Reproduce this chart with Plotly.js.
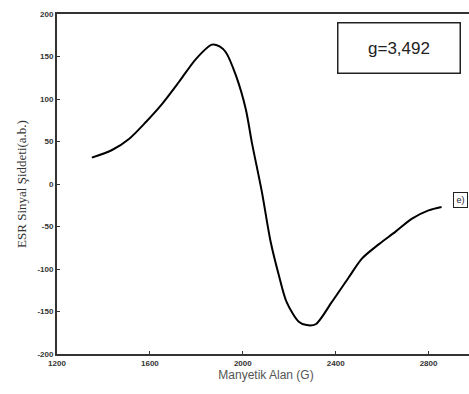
<!DOCTYPE html>
<html>
<head>
<meta charset="utf-8">
<script src="https://cdn.plot.ly/plotly-3.0.1.min.js"></script>
<style>
html,body{margin:0;padding:0;overflow:hidden;background:#fff;}
#chart{width:480px;height:394px;}
</style>
</head>
<body>
<div id="chart"></div>
<script>
const fieldG = [1350, 1437, 1510, 1583, 1652, 1725, 1798, 1867, 1900, 1927, 1970, 2013, 2039, 2082, 2120, 2155, 2189, 2241, 2275, 2314, 2383, 2456, 2512, 2585, 2658, 2727, 2800, 2856];
const signal = [31, 40, 53, 73, 94, 120, 147, 164, 162, 155, 128, 88, 49, -9, -68, -107, -139, -162, -166, -165, -139, -110, -88, -71, -56, -41, -31, -27];
const xTicks = [1200, 1600, 2000, 2400, 2800];
const yTicks = [-200, -150, -100, -50, 0, 50, 100, 150, 200];
const gLabel = "g=3,492";
const panelLabel = "e)";

const trace = {
  x: fieldG, y: signal, type: "scatter", mode: "lines",
  line: {color: "#000", width: 2, shape: "spline", smoothing: 0.8},
  hoverinfo: "skip"
};

const tickFont = {size: 8, family: "Liberation Sans, Arial, sans-serif", color: "#333", weight: "bold"};

const layout = {
  width: 480, height: 394,
  margin: {l: 57, r: 5, t: 14, b: 40},
  paper_bgcolor: "#fff", plot_bgcolor: "#fff",
  showlegend: false,
  font: {family: "Liberation Sans, Arial, sans-serif", color: "#222"},
  xaxis: {
    range: [1200, 3000], tickvals: xTicks, ticktext: xTicks.map(String),
    showgrid: false, zeroline: false, showline: true, mirror: true,
    linecolor: "#333", linewidth: 2, ticks: "inside", ticklen: 3, tickcolor: "#333",
    tickfont: tickFont,
    title: {text: "Manyetik Alan (G)", font: {size: 12, color: "#555"}, standoff: 4}
  },
  yaxis: {
    range: [-200, 200], tickvals: yTicks, ticktext: yTicks.map(String),
    showgrid: false, zeroline: false, showline: true, mirror: true,
    linecolor: "#333", linewidth: 2, ticks: "inside", ticklen: 3, tickcolor: "#333",
    tickfont: tickFont,
    title: {text: "ESR Sinyal Şiddeti(a.b.)", font: {size: 13, family: "Liberation Serif, Times New Roman, serif", color: "#333"}, standoff: 8}
  },
  annotations: [
    {xref: "paper", yref: "paper", x: 0.817, y: 0.899, xanchor: "center", yanchor: "middle",
     text: gLabel, showarrow: false, font: {size: 17, family: "Liberation Sans, Arial, sans-serif", color: "#222"},
     bordercolor: "#222", borderwidth: 1.5, borderpad: 2, width: 117, height: 45, bgcolor: "#fff"},
    {xref: "paper", yref: "paper", x: 0.966, y: 0.454, xanchor: "center", yanchor: "middle",
     text: panelLabel, showarrow: false, font: {size: 9, color: "#223"},
     bordercolor: "#222", borderwidth: 1, borderpad: 1, width: 11, height: 12, bgcolor: "#fff"}
  ]
};

Plotly.newPlot("chart", [trace], layout, {displayModeBar: false, staticPlot: true});
</script>
</body>
</html>
